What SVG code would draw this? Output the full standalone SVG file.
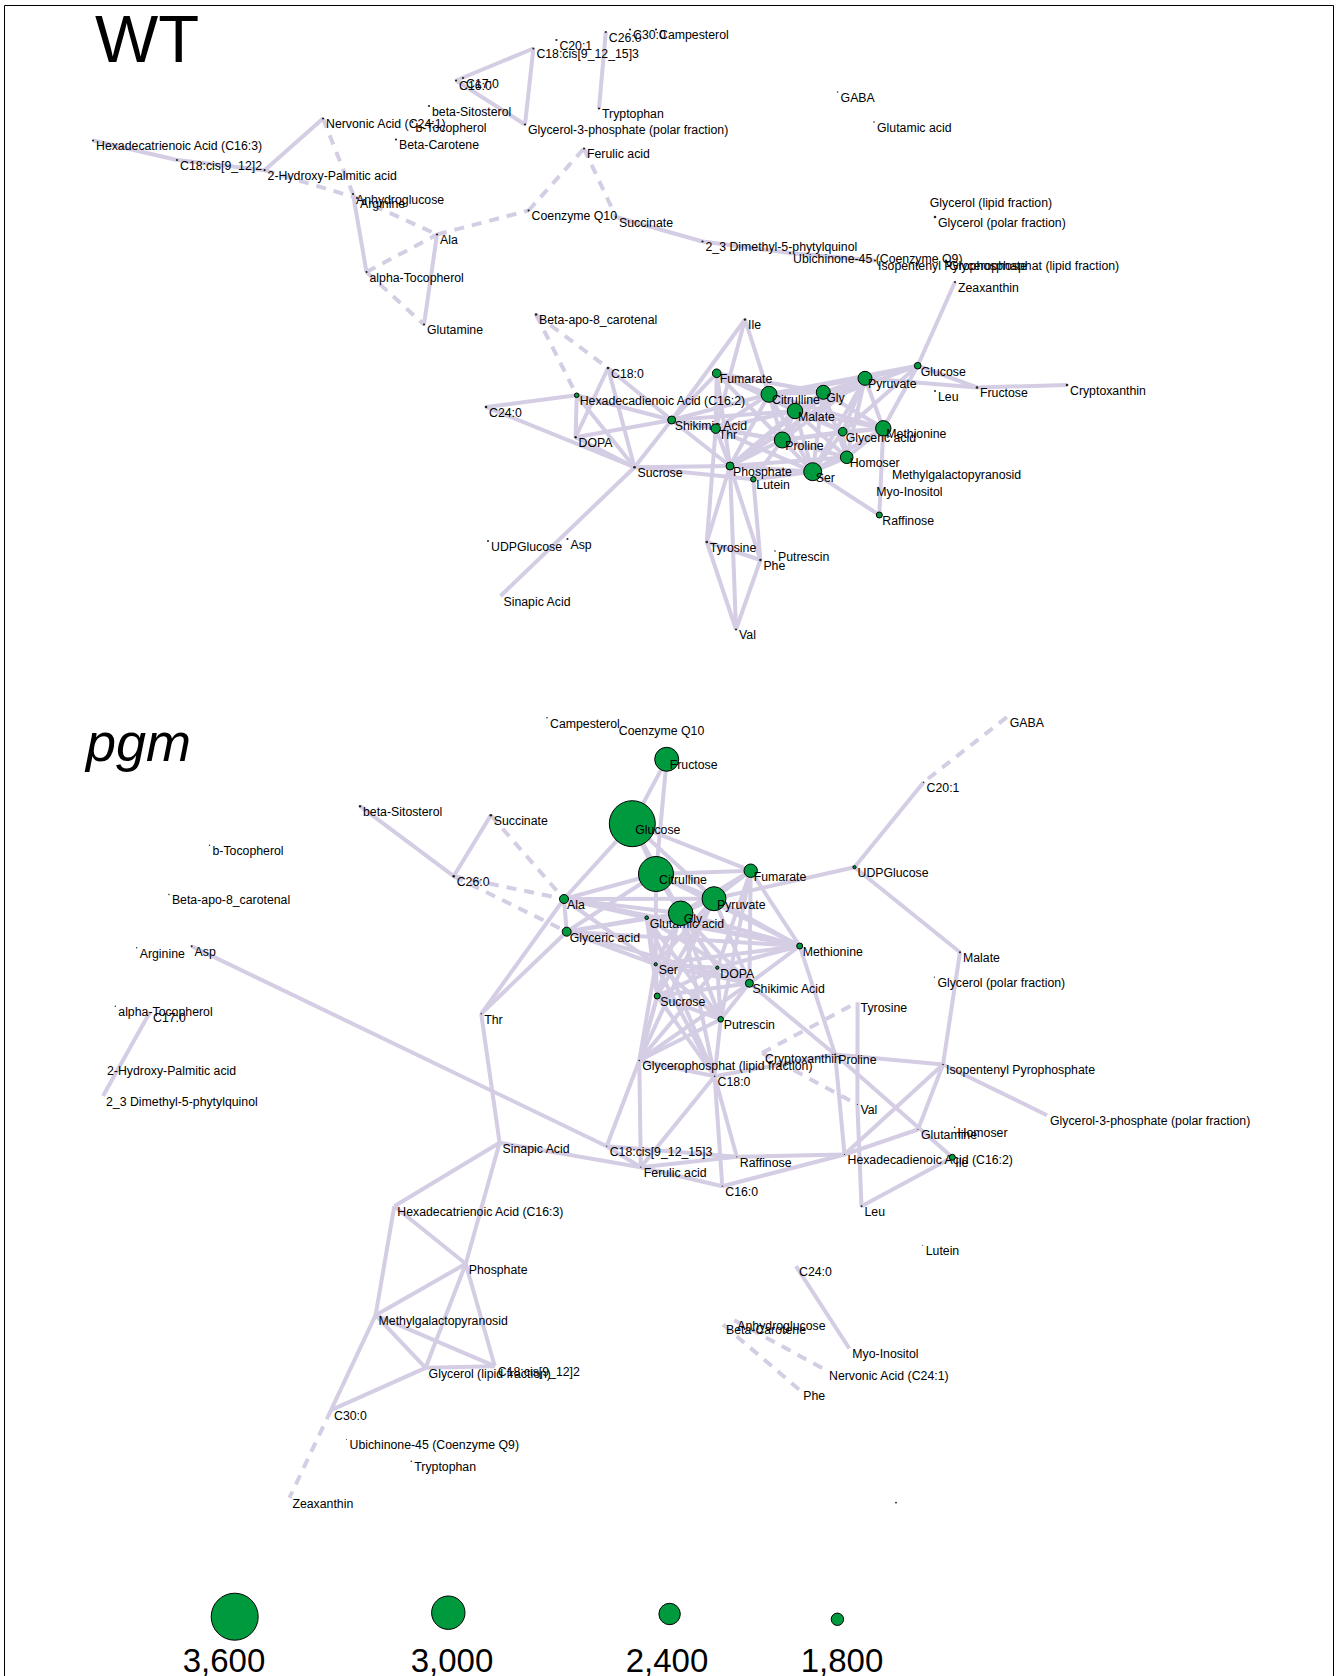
<svg xmlns="http://www.w3.org/2000/svg" width="1337" height="1676" viewBox="0 0 1337 1676">
<style>
.e line{stroke:#d4cde4;stroke-width:4;fill:none}
.e line.d{stroke-dasharray:10 8}
.g{fill:#009a3e;stroke:#000;stroke-width:1}
.k{fill:#222}
text{font-family:"Liberation Sans",Arial,Helvetica,sans-serif;font-size:12.3px;fill:#000}
.big{font-size:67px}
.pg{font-size:54px;font-style:italic}
.lg{font-size:33px;text-anchor:middle}
</style>
<rect x="0" y="0" width="1337" height="1676" fill="#fff"/>
<path d="M4.5,1676 V5.5 H1333.5 V1676" fill="none" stroke="#000" stroke-width="1"/>
<text class="big" x="95" y="62">WT</text>
<text class="pg" x="86" y="761">pgm</text>

<g id="connectors" class="e">
<!-- WT -->
<line x1="93" y1="140.5" x2="177" y2="160"/>
<line x1="177" y1="160" x2="264.6" y2="170.2"/>
<line x1="264.6" y1="170.2" x2="323" y2="118.5"/>
<line class="d" x1="323" y1="118.5" x2="353" y2="194"/>
<line class="d" x1="264.6" y1="170.2" x2="357" y2="198"/>
<line x1="353" y1="194" x2="366.5" y2="272"/>
<line class="d" x1="357" y1="198" x2="437" y2="234.5"/>
<line class="d" x1="366.5" y1="272" x2="437" y2="234.5"/>
<line class="d" x1="366.5" y1="272" x2="424" y2="324.5"/>
<line x1="437" y1="234.5" x2="424" y2="324.5"/>
<line class="d" x1="437" y1="234.5" x2="528.6" y2="210.5"/>
<line class="d" x1="528.6" y1="210.5" x2="584" y2="148.5"/>
<line class="d" x1="584" y1="148.5" x2="616" y2="217"/>
<line x1="616" y1="217" x2="702.5" y2="241.5"/>
<line x1="702.5" y1="241.5" x2="790" y2="253"/>
<line x1="790" y1="253" x2="875" y2="260.5"/>
<line x1="456" y1="80.5" x2="533.4" y2="48.5"/>
<line x1="533.4" y1="48.5" x2="525" y2="124.5"/>
<line x1="456" y1="80.5" x2="525" y2="124.5"/>
<line x1="605.8" y1="32" x2="599" y2="108.5"/>
<line x1="955" y1="282" x2="917.7" y2="365.7"/>
<line class="d" x1="536" y1="314.5" x2="576.7" y2="395.3"/>
<line class="d" x1="536" y1="314.5" x2="608" y2="368"/>
<line x1="486" y1="407" x2="576.7" y2="395.3"/>
<line x1="486" y1="407" x2="634.5" y2="467.2"/>
<line x1="576.7" y1="395.3" x2="575.6" y2="437.2"/>
<line x1="576.7" y1="395.3" x2="634.5" y2="467.2"/>
<line x1="576.7" y1="395.3" x2="671.7" y2="420"/>
<line x1="608" y1="368" x2="575.6" y2="437.2"/>
<line x1="608" y1="368" x2="634.5" y2="467.2"/>
<line x1="608" y1="368" x2="671.7" y2="420"/>
<line x1="575.6" y1="437.2" x2="634.5" y2="467.2"/>
<line x1="575.6" y1="437.2" x2="671.7" y2="420"/>
<line x1="634.5" y1="467.2" x2="500.5" y2="596"/>
<line x1="634.5" y1="467.2" x2="671.7" y2="420"/>
<line x1="634.5" y1="467.2" x2="730" y2="466"/>
<line x1="634.5" y1="467.2" x2="753.3" y2="479.3"/>
<line x1="671.7" y1="420" x2="716.7" y2="373.3"/>
<line x1="671.7" y1="420" x2="715.7" y2="428.7"/>
<line x1="671.7" y1="420" x2="769" y2="394.3"/>
<line x1="671.7" y1="420" x2="795" y2="411"/>
<line x1="671.7" y1="420" x2="730" y2="466"/>
<line x1="671.7" y1="420" x2="782.3" y2="440"/>
<line x1="745" y1="319.5" x2="671.7" y2="420"/>
<line x1="745" y1="319.5" x2="715.7" y2="428.7"/>
<line x1="745" y1="319.5" x2="769" y2="394.3"/>
<line x1="716.7" y1="373.3" x2="715.7" y2="428.7"/>
<line x1="716.7" y1="373.3" x2="730" y2="466"/>
<line x1="716.7" y1="373.3" x2="769" y2="394.3"/>
<line x1="716.7" y1="373.3" x2="823.3" y2="392.3"/>
<line x1="716.7" y1="373.3" x2="782.3" y2="440"/>
<line x1="716.7" y1="373.3" x2="795" y2="411"/>
<line x1="715.7" y1="428.7" x2="769" y2="394.3"/>
<line x1="715.7" y1="428.7" x2="795" y2="411"/>
<line x1="715.7" y1="428.7" x2="782.3" y2="440"/>
<line x1="715.7" y1="428.7" x2="730" y2="466"/>
<line x1="715.7" y1="428.7" x2="706.8" y2="542"/>
<line x1="715.7" y1="428.7" x2="812.7" y2="471.7"/>
<line x1="730" y1="466" x2="769" y2="394.3"/>
<line x1="730" y1="466" x2="823.3" y2="392.3"/>
<line x1="730" y1="466" x2="795" y2="411"/>
<line x1="730" y1="466" x2="782.3" y2="440"/>
<line x1="730" y1="466" x2="812.7" y2="471.7"/>
<line x1="730" y1="466" x2="846.7" y2="457.3"/>
<line x1="730" y1="466" x2="706.8" y2="542"/>
<line x1="730" y1="466" x2="736" y2="629.5"/>
<line x1="730" y1="466" x2="760.4" y2="560"/>
<line x1="730" y1="466" x2="865" y2="378.3"/>
<line x1="753.3" y1="479.3" x2="812.7" y2="471.7"/>
<line x1="753.3" y1="479.3" x2="760.4" y2="560"/>
<line x1="753.3" y1="479.3" x2="782.3" y2="440"/>
<line x1="769" y1="394.3" x2="823.3" y2="392.3"/>
<line x1="769" y1="394.3" x2="865" y2="378.3"/>
<line x1="769" y1="394.3" x2="917.7" y2="365.7"/>
<line x1="769" y1="394.3" x2="795" y2="411"/>
<line x1="769" y1="394.3" x2="782.3" y2="440"/>
<line x1="769" y1="394.3" x2="812.7" y2="471.7"/>
<line x1="769" y1="394.3" x2="842.7" y2="431.7"/>
<line x1="769" y1="394.3" x2="883.3" y2="428.3"/>
<line x1="823.3" y1="392.3" x2="865" y2="378.3"/>
<line x1="823.3" y1="392.3" x2="795" y2="411"/>
<line x1="823.3" y1="392.3" x2="782.3" y2="440"/>
<line x1="823.3" y1="392.3" x2="883.3" y2="428.3"/>
<line x1="823.3" y1="392.3" x2="812.7" y2="471.7"/>
<line x1="823.3" y1="392.3" x2="846.7" y2="457.3"/>
<line x1="865" y1="378.3" x2="917.7" y2="365.7"/>
<line x1="865" y1="378.3" x2="795" y2="411"/>
<line x1="865" y1="378.3" x2="782.3" y2="440"/>
<line x1="865" y1="378.3" x2="842.7" y2="431.7"/>
<line x1="865" y1="378.3" x2="883.3" y2="428.3"/>
<line x1="865" y1="378.3" x2="846.7" y2="457.3"/>
<line x1="865" y1="378.3" x2="812.7" y2="471.7"/>
<line x1="865" y1="378.3" x2="977" y2="387.5"/>
<line x1="917.7" y1="365.7" x2="977" y2="387.5"/>
<line x1="917.7" y1="365.7" x2="883.3" y2="428.3"/>
<line x1="917.7" y1="365.7" x2="795" y2="411"/>
<line x1="917.7" y1="365.7" x2="842.7" y2="431.7"/>
<line x1="977" y1="387.5" x2="1067" y2="385"/>
<line x1="795" y1="411" x2="782.3" y2="440"/>
<line x1="795" y1="411" x2="842.7" y2="431.7"/>
<line x1="795" y1="411" x2="883.3" y2="428.3"/>
<line x1="795" y1="411" x2="812.7" y2="471.7"/>
<line x1="795" y1="411" x2="846.7" y2="457.3"/>
<line x1="782.3" y1="440" x2="842.7" y2="431.7"/>
<line x1="782.3" y1="440" x2="883.3" y2="428.3"/>
<line x1="782.3" y1="440" x2="812.7" y2="471.7"/>
<line x1="782.3" y1="440" x2="846.7" y2="457.3"/>
<line x1="842.7" y1="431.7" x2="883.3" y2="428.3"/>
<line x1="842.7" y1="431.7" x2="812.7" y2="471.7"/>
<line x1="842.7" y1="431.7" x2="846.7" y2="457.3"/>
<line x1="883.3" y1="428.3" x2="846.7" y2="457.3"/>
<line x1="883.3" y1="428.3" x2="812.7" y2="471.7"/>
<line x1="883.3" y1="428.3" x2="879.3" y2="515"/>
<line x1="812.7" y1="471.7" x2="879.3" y2="515"/>
<line x1="812.7" y1="471.7" x2="846.7" y2="457.3"/>
<line x1="706.8" y1="542" x2="760.4" y2="560"/>
<line x1="706.8" y1="542" x2="736" y2="629.5"/>
<line x1="760.4" y1="560" x2="736" y2="629.5"/>
<!-- pgm -->
<line class="d" x1="1006.8" y1="717.2" x2="923.6" y2="782.2"/>
<line x1="923.6" y1="782.2" x2="854.5" y2="867.2"/>
<line x1="854.5" y1="867.2" x2="960" y2="952.2"/>
<line x1="854.5" y1="867.2" x2="714" y2="898.7"/>
<line x1="960" y1="952.2" x2="943" y2="1064.5"/>
<line x1="360" y1="806.2" x2="453.7" y2="876.2"/>
<line x1="490.8" y1="815.2" x2="453.7" y2="876.2"/>
<line class="d" x1="490.8" y1="815.2" x2="564" y2="899"/>
<line class="d" x1="453.7" y1="876.2" x2="564" y2="899"/>
<line class="d" x1="453.7" y1="876.2" x2="566.7" y2="931.7"/>
<line x1="191.6" y1="946.2" x2="606.7" y2="1146.2"/>
<line x1="150" y1="1012" x2="103" y2="1096"/>
<line x1="666.7" y1="759.3" x2="632.3" y2="823.7"/>
<line x1="666.7" y1="759.3" x2="656" y2="874"/>
<line x1="632.3" y1="823.7" x2="656" y2="874"/>
<line x1="632.3" y1="823.7" x2="564" y2="899"/>
<line x1="632.3" y1="823.7" x2="750.7" y2="870.7"/>
<line x1="632.3" y1="823.7" x2="714" y2="898.7"/>
<line x1="632.3" y1="823.7" x2="680.7" y2="913.3"/>
<line x1="656" y1="874" x2="750.7" y2="870.7"/>
<line x1="656" y1="874" x2="714" y2="898.7"/>
<line x1="656" y1="874" x2="680.7" y2="913.3"/>
<line x1="656" y1="874" x2="564" y2="899"/>
<line x1="656" y1="874" x2="566.7" y2="931.7"/>
<line x1="656" y1="874" x2="655.7" y2="964.3"/>
<line x1="656" y1="874" x2="717.3" y2="967.7"/>
<line x1="656" y1="874" x2="799.7" y2="946"/>
<line x1="750.7" y1="870.7" x2="714" y2="898.7"/>
<line x1="750.7" y1="870.7" x2="680.7" y2="913.3"/>
<line x1="750.7" y1="870.7" x2="799.7" y2="946"/>
<line x1="750.7" y1="870.7" x2="749.4" y2="983.3"/>
<line x1="750.7" y1="870.7" x2="717.3" y2="967.7"/>
<line x1="750.7" y1="870.7" x2="720.7" y2="1019.3"/>
<line x1="714" y1="898.7" x2="680.7" y2="913.3"/>
<line x1="714" y1="898.7" x2="564" y2="899"/>
<line x1="714" y1="898.7" x2="799.7" y2="946"/>
<line x1="714" y1="898.7" x2="655.7" y2="964.3"/>
<line x1="714" y1="898.7" x2="657.2" y2="996"/>
<line x1="714" y1="898.7" x2="639.3" y2="1060.5"/>
<line x1="714" y1="898.7" x2="749.4" y2="983.3"/>
<line x1="680.7" y1="913.3" x2="564" y2="899"/>
<line x1="680.7" y1="913.3" x2="566.7" y2="931.7"/>
<line x1="680.7" y1="913.3" x2="799.7" y2="946"/>
<line x1="680.7" y1="913.3" x2="655.7" y2="964.3"/>
<line x1="680.7" y1="913.3" x2="657.2" y2="996"/>
<line x1="680.7" y1="913.3" x2="717.3" y2="967.7"/>
<line x1="680.7" y1="913.3" x2="749.4" y2="983.3"/>
<line x1="680.7" y1="913.3" x2="720.7" y2="1019.3"/>
<line x1="680.7" y1="913.3" x2="639.3" y2="1060.5"/>
<line x1="680.7" y1="913.3" x2="714.6" y2="1076.2"/>
<line x1="646.7" y1="917.7" x2="564" y2="899"/>
<line x1="646.7" y1="917.7" x2="566.7" y2="931.7"/>
<line x1="646.7" y1="917.7" x2="799.7" y2="946"/>
<line x1="646.7" y1="917.7" x2="655.7" y2="964.3"/>
<line x1="646.7" y1="917.7" x2="657.2" y2="996"/>
<line x1="646.7" y1="917.7" x2="749.4" y2="983.3"/>
<line x1="646.7" y1="917.7" x2="720.7" y2="1019.3"/>
<line x1="646.7" y1="917.7" x2="714.6" y2="1076.2"/>
<line x1="564" y1="899" x2="566.7" y2="931.7"/>
<line x1="564" y1="899" x2="655.7" y2="964.3"/>
<line x1="564" y1="899" x2="799.7" y2="946"/>
<line x1="564" y1="899" x2="481.2" y2="1013.8"/>
<line x1="566.7" y1="931.7" x2="655.7" y2="964.3"/>
<line x1="566.7" y1="931.7" x2="481.2" y2="1013.8"/>
<line x1="566.7" y1="931.7" x2="799.7" y2="946"/>
<line x1="566.7" y1="931.7" x2="749.4" y2="983.3"/>
<line x1="799.7" y1="946" x2="655.7" y2="964.3"/>
<line x1="799.7" y1="946" x2="717.3" y2="967.7"/>
<line x1="799.7" y1="946" x2="749.4" y2="983.3"/>
<line x1="799.7" y1="946" x2="835.2" y2="1054.5"/>
<line x1="655.7" y1="964.3" x2="717.3" y2="967.7"/>
<line x1="655.7" y1="964.3" x2="657.2" y2="996"/>
<line x1="655.7" y1="964.3" x2="720.7" y2="1019.3"/>
<line x1="655.7" y1="964.3" x2="749.4" y2="983.3"/>
<line x1="655.7" y1="964.3" x2="639.3" y2="1060.5"/>
<line x1="655.7" y1="964.3" x2="714.6" y2="1076.2"/>
<line x1="717.3" y1="967.7" x2="749.4" y2="983.3"/>
<line x1="717.3" y1="967.7" x2="657.2" y2="996"/>
<line x1="717.3" y1="967.7" x2="720.7" y2="1019.3"/>
<line x1="717.3" y1="967.7" x2="639.3" y2="1060.5"/>
<line x1="749.4" y1="983.3" x2="657.2" y2="996"/>
<line x1="749.4" y1="983.3" x2="720.7" y2="1019.3"/>
<line x1="749.4" y1="983.3" x2="639.3" y2="1060.5"/>
<line x1="749.4" y1="983.3" x2="835.2" y2="1054.5"/>
<line x1="657.2" y1="996" x2="720.7" y2="1019.3"/>
<line x1="657.2" y1="996" x2="714.6" y2="1076.2"/>
<line x1="657.2" y1="996" x2="639.3" y2="1060.5"/>
<line x1="720.7" y1="1019.3" x2="714.6" y2="1076.2"/>
<line x1="720.7" y1="1019.3" x2="639.3" y2="1060.5"/>
<line x1="639.3" y1="1060.5" x2="714.6" y2="1076.2"/>
<line x1="639.3" y1="1060.5" x2="606.7" y2="1146.2"/>
<line x1="639.3" y1="1060.5" x2="640.8" y2="1167.2"/>
<line x1="714.6" y1="1076.2" x2="722.3" y2="1186.2"/>
<line x1="714.6" y1="1076.2" x2="736.8" y2="1156.8"/>
<line x1="714.6" y1="1076.2" x2="640.8" y2="1167.2"/>
<line x1="714.6" y1="1076.2" x2="835.2" y2="1054.5"/>
<line x1="606.7" y1="1146.2" x2="640.8" y2="1167.2"/>
<line x1="606.7" y1="1146.2" x2="736.8" y2="1156.8"/>
<line x1="499.6" y1="1142.8" x2="640.8" y2="1167.2"/>
<line x1="640.8" y1="1167.2" x2="736.8" y2="1156.8"/>
<line x1="640.8" y1="1167.2" x2="722.3" y2="1186.2"/>
<line x1="736.8" y1="1156.8" x2="844.5" y2="1154.5"/>
<line x1="722.3" y1="1186.2" x2="844.5" y2="1154.5"/>
<line x1="835.2" y1="1054.5" x2="943" y2="1064.5"/>
<line x1="835.2" y1="1054.5" x2="844.5" y2="1154.5"/>
<line x1="835.2" y1="1054.5" x2="952.3" y2="1157.3"/>
<line class="d" x1="762" y1="1053" x2="857.6" y2="1002.2"/>
<line class="d" x1="762" y1="1053" x2="857.4" y2="1104.5"/>
<line x1="857.6" y1="1002.2" x2="857.4" y2="1104.5"/>
<line x1="857.4" y1="1104.5" x2="861.5" y2="1206.2"/>
<line x1="861.5" y1="1206.2" x2="952.3" y2="1157.3"/>
<line x1="943" y1="1064.5" x2="918" y2="1129.5"/>
<line x1="943" y1="1064.5" x2="844.5" y2="1154.5"/>
<line x1="943" y1="1064.5" x2="1047" y2="1115.2"/>
<line x1="918" y1="1129.5" x2="844.5" y2="1154.5"/>
<line x1="481.2" y1="1013.8" x2="499.6" y2="1142.8"/>
<line x1="499.6" y1="1142.8" x2="394.3" y2="1206.2"/>
<line x1="499.6" y1="1142.8" x2="465.75" y2="1263.8"/>
<line x1="394.3" y1="1206.2" x2="465.75" y2="1263.8"/>
<line x1="394.3" y1="1206.2" x2="375.6" y2="1315.2"/>
<line x1="465.75" y1="1263.8" x2="375.6" y2="1315.2"/>
<line x1="465.75" y1="1263.8" x2="425.6" y2="1367.8"/>
<line x1="465.75" y1="1263.8" x2="494.8" y2="1366.2"/>
<line x1="375.6" y1="1315.2" x2="425.6" y2="1367.8"/>
<line x1="375.6" y1="1315.2" x2="494.8" y2="1366.2"/>
<line x1="375.6" y1="1315.2" x2="331" y2="1410.2"/>
<line x1="425.6" y1="1367.8" x2="331" y2="1410.2"/>
<line x1="425.6" y1="1367.8" x2="494.8" y2="1366.2"/>
<line class="d" x1="331" y1="1410.2" x2="289.4" y2="1497.8"/>
<line x1="796" y1="1266.2" x2="849.3" y2="1348.5"/>
<line class="d" x1="723" y1="1324.5" x2="800.3" y2="1390.5"/>
<line class="d" x1="734.3" y1="1320.2" x2="826" y2="1370.2"/>
</g>

<g id="wt-nodes">
<g id="wt-hex3" transform="translate(93,140.5)"><circle class="k" r="1.1"/><text x="3" y="9.8">Hexadecatrienoic Acid (C16:3)</text></g>
<g id="wt-c18cis2" transform="translate(177,160)"><circle class="k" r="1.1"/><text x="3" y="9.8">C18:cis[9_12]2</text></g>
<g id="wt-2hp" transform="translate(264.6,170.2)"><circle class="k" r="1.1"/><text x="3" y="9.8">2-Hydroxy-Palmitic acid</text></g>
<g id="wt-nerv" transform="translate(323,118.5)"><circle class="k" r="1.1"/><text x="3" y="9.8">Nervonic Acid (C24:1)</text></g>
<g id="wt-anh" transform="translate(353,194)"><circle class="k" r="1.1"/><text x="3" y="9.8">Anhydroglucose</text></g>
<g id="wt-arg" transform="translate(357,198)"><circle class="k" r="1.1"/><text x="3" y="9.8">Arginine</text></g>
<g id="wt-atoc" transform="translate(366.5,272)"><circle class="k" r="1.1"/><text x="3" y="9.8">alpha-Tocopherol</text></g>
<g id="wt-ala" transform="translate(437,234.5)"><circle class="k" r="1.1"/><text x="3" y="9.8">Ala</text></g>
<g id="wt-glutamine" transform="translate(424,324.5)"><circle class="k" r="1.1"/><text x="3" y="9.8">Glutamine</text></g>
<g id="wt-coq10" transform="translate(528.6,210.5)"><circle class="k" r="1.1"/><text x="3" y="9.8">Coenzyme Q10</text></g>
<g id="wt-ferulic" transform="translate(584,148.5)"><circle class="k" r="1.1"/><text x="3" y="9.8">Ferulic acid</text></g>
<g id="wt-succinate" transform="translate(616,217)"><circle class="k" r="1.1"/><text x="3" y="9.8">Succinate</text></g>
<g id="wt-23d" transform="translate(702.5,241.5)"><circle class="k" r="1.1"/><text x="3" y="9.8">2_3 Dimethyl-5-phytylquinol</text></g>
<g id="wt-ubi" transform="translate(790,253)"><circle class="k" r="1.1"/><text x="3" y="9.8">Ubichinone-45 (Coenzyme Q9)</text></g>
<g id="wt-isop" transform="translate(875,260.5)"><circle class="k" r="1.1"/><text x="3" y="9.8">Isopentenyl Pyrophosphate</text></g>
<g id="wt-glyp" transform="translate(946,260.5)"><circle class="k" r="1.1"/><text x="3" y="9.8">Glycerophosphat (lipid fraction)</text></g>
<g id="wt-zea" transform="translate(955,282)"><circle class="k" r="1.1"/><text x="3" y="9.8">Zeaxanthin</text></g>
<g id="wt-c16" transform="translate(456,80.5)"><circle class="k" r="1.1"/><text x="3" y="9.8">C16:0</text></g>
<g id="wt-c17" transform="translate(463,78)"><circle class="k" r="1.1"/><text x="3" y="9.8">C17:0</text></g>
<g id="wt-c18cis3" transform="translate(533.4,48.5)"><circle class="k" r="1.1"/><text x="3" y="9.8">C18:cis[9_12_15]3</text></g>
<g id="wt-c20" transform="translate(556.4,40)"><circle class="k" r="1.1"/><text x="3" y="9.8">C20:1</text></g>
<g id="wt-c26" transform="translate(605.8,32)"><circle class="k" r="1.1"/><text x="3" y="9.8">C26:0</text></g>
<g id="wt-c30" transform="translate(630,29.5)"><circle class="k" r="1.1"/><text x="3" y="9.8">C30:0</text></g>
<g id="wt-camp" transform="translate(656,29.5)"><circle class="k" r="1.1"/><text x="3" y="9.8">Campesterol</text></g>
<g id="wt-tryp" transform="translate(599,108.5)"><circle class="k" r="1.1"/><text x="3" y="9.8">Tryptophan</text></g>
<g id="wt-g3p" transform="translate(525,124.5)"><circle class="k" r="1.1"/><text x="3" y="9.8">Glycerol-3-phosphate (polar fraction)</text></g>
<g id="wt-bsit" transform="translate(429,106)"><circle class="k" r="1.1"/><text x="3" y="9.8">beta-Sitosterol</text></g>
<g id="wt-btoc" transform="translate(412.4,122)"><circle class="k" r="1.1"/><text x="3" y="9.8">b-Tocopherol</text></g>
<g id="wt-bcar" transform="translate(396,139.5)"><circle class="k" r="1.1"/><text x="3" y="9.8">Beta-Carotene</text></g>
<g id="wt-gaba" transform="translate(837.6,92)"><circle class="k" r="0.8"/><text x="3" y="9.8">GABA</text></g>
<g id="wt-glua" transform="translate(874,122)"><circle class="k" r="0.8"/><text x="3" y="9.8">Glutamic acid</text></g>
<g id="wt-glyl" transform="translate(926.8,197)"><text x="3" y="9.8">Glycerol (lipid fraction)</text></g>
<g id="wt-glypo" transform="translate(935,217)"><circle class="k" r="1.3"/><text x="3" y="9.8">Glycerol (polar fraction)</text></g>
<g id="wt-bapo" transform="translate(536,314.5)"><circle class="k" r="1.3"/><text x="3" y="9.8">Beta-apo-8_carotenal</text></g>
<g id="wt-ile" transform="translate(745,319.5)"><circle class="k" r="1.2"/><text x="3" y="9.8">Ile</text></g>
<g id="wt-c18" transform="translate(608,368)"><circle class="k" r="1.3"/><text x="3" y="9.8">C18:0</text></g>
<g id="wt-hd" transform="translate(576.7,395.3)"><circle class="g" r="2.3"/><text x="3" y="9.8">Hexadecadienoic Acid (C16:2)</text></g>
<g id="wt-c24" transform="translate(486,407)"><circle class="k" r="1.3"/><text x="3" y="9.8">C24:0</text></g>
<g id="wt-dopa" transform="translate(575.6,437.2)"><circle class="k" r="1.2"/><text x="3" y="9.8">DOPA</text></g>
<g id="wt-sucrose" transform="translate(634.5,467.2)"><circle class="k" r="1.3"/><text x="3" y="9.8">Sucrose</text></g>
<g id="wt-fum" transform="translate(716.7,373.3)"><circle class="g" r="4.3"/><text x="3" y="9.8">Fumarate</text></g>
<g id="wt-cit" transform="translate(769,394.3)"><circle class="g" r="8"/><text x="3" y="9.8">Citrulline</text></g>
<g id="wt-gly" transform="translate(823.3,392.3)"><circle class="g" r="7"/><text x="3" y="9.8">Gly</text></g>
<g id="wt-pyr" transform="translate(865,378.3)"><circle class="g" r="7"/><text x="3" y="9.8">Pyruvate</text></g>
<g id="wt-glc" transform="translate(917.7,365.7)"><circle class="g" r="3.3"/><text x="3" y="9.8">Glucose</text></g>
<g id="wt-leu" transform="translate(935,391)"><circle class="k" r="1"/><text x="3" y="9.8">Leu</text></g>
<g id="wt-fru" transform="translate(977,387.5)"><circle class="k" r="1.3"/><text x="3" y="9.8">Fructose</text></g>
<g id="wt-cry" transform="translate(1067,385)"><circle class="k" r="1.3"/><text x="3" y="9.8">Cryptoxanthin</text></g>
<g id="wt-shi" transform="translate(671.7,420)"><circle class="g" r="4"/><text x="3" y="9.8">Shikimic Acid</text></g>
<g id="wt-thr" transform="translate(715.7,428.7)"><circle class="g" r="4.7"/><text x="3" y="9.8">Thr</text></g>
<g id="wt-mal" transform="translate(795,411)"><circle class="g" r="7.7"/><text x="3" y="9.8">Malate</text></g>
<g id="wt-pro" transform="translate(782.3,440)"><circle class="g" r="8"/><text x="3" y="9.8">Proline</text></g>
<g id="wt-ga" transform="translate(842.7,431.7)"><circle class="g" r="4.3"/><text x="3" y="9.8">Glyceric acid</text></g>
<g id="wt-met" transform="translate(883.3,428.3)"><circle class="g" r="7.7"/><text x="3" y="9.8">Methionine</text></g>
<g id="wt-pho" transform="translate(730,466)"><circle class="g" r="4"/><text x="3" y="9.8">Phosphate</text></g>
<g id="wt-lut" transform="translate(753.3,479.3)"><circle class="g" r="2.7"/><text x="3" y="9.8">Lutein</text></g>
<g id="wt-hom" transform="translate(846.7,457.3)"><circle class="g" r="6.3"/><text x="3" y="9.8">Homoser</text></g>
<g id="wt-ser" transform="translate(812.7,471.7)"><circle class="g" r="9"/><text x="3" y="9.8">Ser</text></g>
<g id="wt-mgp" transform="translate(889,469)"><text x="3" y="9.8">Methylgalactopyranosid</text></g>
<g id="wt-myo" transform="translate(873.3,486)"><text x="3" y="9.8">Myo-Inositol</text></g>
<g id="wt-raf" transform="translate(879.3,515)"><circle class="g" r="3"/><text x="3" y="9.8">Raffinose</text></g>
<g id="wt-udp" transform="translate(488,541)"><circle class="k" r="1"/><text x="3" y="9.8">UDPGlucose</text></g>
<g id="wt-asp" transform="translate(567.5,539)"><circle class="k" r="1"/><text x="3" y="9.8">Asp</text></g>
<g id="wt-sin" transform="translate(500.5,596)"><text x="3" y="9.8">Sinapic Acid</text></g>
<g id="wt-tyr" transform="translate(706.8,542)"><circle class="k" r="1.3"/><text x="3" y="9.8">Tyrosine</text></g>
<g id="wt-phe" transform="translate(760.4,560)"><circle class="k" r="1.3"/><text x="3" y="9.8">Phe</text></g>
<g id="wt-put" transform="translate(775,551)"><circle class="k" r="0.8"/><text x="3" y="9.8">Putrescin</text></g>
<g id="wt-val" transform="translate(736,629.5)"><circle class="k" r="1"/><text x="3" y="9.8">Val</text></g>
</g>

<g id="pgm-nodes">
<g id="pgm-camp" transform="translate(547,717.8)"><circle class="k" r="0.8"/><text x="3" y="9.8">Campesterol</text></g>
<g id="pgm-coq10" transform="translate(615.8,725.2)"><text x="3" y="9.8">Coenzyme Q10</text></g>
<g id="pgm-fru" transform="translate(666.7,759.3)"><circle class="g" r="12"/><text x="3" y="9.8">Fructose</text></g>
<g id="pgm-gaba" transform="translate(1006.8,717.2)"><text x="3" y="9.8">GABA</text></g>
<g id="pgm-c20" transform="translate(923.6,782.2)"><circle class="k" r="0.8"/><text x="3" y="9.8">C20:1</text></g>
<g id="pgm-glc" transform="translate(632.3,823.7)"><circle class="g" r="23"/><text x="3" y="9.8">Glucose</text></g>
<g id="pgm-bsit" transform="translate(360,806.2)"><circle class="k" r="1.2"/><text x="3" y="9.8">beta-Sitosterol</text></g>
<g id="pgm-succ" transform="translate(490.8,815.2)"><circle class="k" r="1.3"/><text x="3" y="9.8">Succinate</text></g>
<g id="pgm-btoc" transform="translate(209.5,845.2)"><circle class="k" r="0.7"/><text x="3" y="9.8">b-Tocopherol</text></g>
<g id="pgm-c26" transform="translate(453.7,876.2)"><circle class="k" r="1.3"/><text x="3" y="9.8">C26:0</text></g>
<g id="pgm-cit" transform="translate(656,874)"><circle class="g" r="17.5"/><text x="3" y="9.8">Citrulline</text></g>
<g id="pgm-fum" transform="translate(750.7,870.7)"><circle class="g" r="6.7"/><text x="3" y="9.8">Fumarate</text></g>
<g id="pgm-udp" transform="translate(854.5,867.2)"><circle class="g" r="1.6"/><text x="3" y="9.8">UDPGlucose</text></g>
<g id="pgm-bapo" transform="translate(168.9,894.5)"><circle class="k" r="0.7"/><text x="3" y="9.8">Beta-apo-8_carotenal</text></g>
<g id="pgm-ala" transform="translate(564,899)"><circle class="g" r="4.5"/><text x="3" y="9.8">Ala</text></g>
<g id="pgm-pyr" transform="translate(714,898.7)"><circle class="g" r="12"/><text x="3" y="9.8">Pyruvate</text></g>
<g id="pgm-glu" transform="translate(646.7,917.7)"><circle class="g" r="1.8"/><text x="3" y="9.8">Glutamic acid</text></g>
<g id="pgm-gly" transform="translate(680.7,913.3)"><circle class="g" r="12.3"/><text x="3" y="9.8">Gly</text></g>
<g id="pgm-ga" transform="translate(566.7,931.7)"><circle class="g" r="4.5"/><text x="3" y="9.8">Glyceric acid</text></g>
<g id="pgm-met" transform="translate(799.7,946)"><circle class="g" r="3"/><text x="3" y="9.8">Methionine</text></g>
<g id="pgm-arg" transform="translate(136.7,947.8)"><circle class="k" r="0.7"/><text x="3" y="9.8">Arginine</text></g>
<g id="pgm-asp" transform="translate(191.6,946.2)"><circle class="k" r="1"/><text x="3" y="9.8">Asp</text></g>
<g id="pgm-mal" transform="translate(960,952.2)"><circle class="k" r="1"/><text x="3" y="9.8">Malate</text></g>
<g id="pgm-ser" transform="translate(655.7,964.3)"><circle class="g" r="1.6"/><text x="3" y="9.8">Ser</text></g>
<g id="pgm-dopa" transform="translate(717.3,967.7)"><circle class="g" r="1.6"/><text x="3" y="9.8">DOPA</text></g>
<g id="pgm-glypo" transform="translate(934.4,977.2)"><circle class="k" r="0.6"/><text x="3" y="9.8">Glycerol (polar fraction)</text></g>
<g id="pgm-shi" transform="translate(749.4,983.3)"><circle class="g" r="4"/><text x="3" y="9.8">Shikimic Acid</text></g>
<g id="pgm-suc" transform="translate(657.2,996)"><circle class="g" r="3"/><text x="3" y="9.8">Sucrose</text></g>
<g id="pgm-tyr" transform="translate(857.6,1002.2)"><text x="3" y="9.8">Tyrosine</text></g>
<g id="pgm-atoc" transform="translate(115.3,1006.2)"><circle class="k" r="0.7"/><text x="3" y="9.8">alpha-Tocopherol</text></g>
<g id="pgm-c17" transform="translate(150,1012)"><text x="3" y="9.8">C17:0</text></g>
<g id="pgm-thr" transform="translate(481.2,1013.8)"><circle class="k" r="0.7"/><text x="3" y="9.8">Thr</text></g>
<g id="pgm-put" transform="translate(720.7,1019.3)"><circle class="g" r="2.8"/><text x="3" y="9.8">Putrescin</text></g>
<g id="pgm-cry" transform="translate(762,1053)"><text x="3" y="9.8">Cryptoxanthin</text></g>
<g id="pgm-pro" transform="translate(835.2,1054.5)"><circle class="k" r="1"/><text x="3" y="9.8">Proline</text></g>
<g id="pgm-glyp" transform="translate(639.3,1060.5)"><circle class="k" r="0.8"/><text x="3" y="9.8">Glycerophosphat (lipid fraction)</text></g>
<g id="pgm-isop" transform="translate(943,1064.5)"><circle class="k" r="0.8"/><text x="3" y="9.8">Isopentenyl Pyrophosphate</text></g>
<g id="pgm-2hp" transform="translate(104,1065)"><text x="3" y="9.8">2-Hydroxy-Palmitic acid</text></g>
<g id="pgm-c18" transform="translate(714.6,1076.2)"><circle class="k" r="0.8"/><text x="3" y="9.8">C18:0</text></g>
<g id="pgm-23d" transform="translate(103,1096)"><text x="3" y="9.8">2_3 Dimethyl-5-phytylquinol</text></g>
<g id="pgm-val" transform="translate(857.4,1104.5)"><circle class="k" r="0.6"/><text x="3" y="9.8">Val</text></g>
<g id="pgm-g3p" transform="translate(1047,1115.2)"><text x="3" y="9.8">Glycerol-3-phosphate (polar fraction)</text></g>
<g id="pgm-hom" transform="translate(954.6,1127.2)"><circle class="k" r="0.8"/><text x="3" y="9.8">Homoser</text></g>
<g id="pgm-glut" transform="translate(918,1129.5)"><circle class="k" r="0.6"/><text x="3" y="9.8">Glutamine</text></g>
<g id="pgm-sin" transform="translate(499.6,1142.8)"><text x="3" y="9.8">Sinapic Acid</text></g>
<g id="pgm-c18cis3" transform="translate(606.7,1146.2)"><circle class="k" r="0.6"/><text x="3" y="9.8">C18:cis[9_12_15]3</text></g>
<g id="pgm-hd" transform="translate(844.5,1154.5)"><circle class="k" r="0.6"/><text x="3" y="9.8">Hexadecadienoic Acid (C16:2)</text></g>
<g id="pgm-ile" transform="translate(952.3,1157.3)"><circle class="g" r="3"/><text x="3" y="9.8">Ile</text></g>
<g id="pgm-raf" transform="translate(736.8,1156.8)"><circle class="k" r="0.6"/><text x="3" y="9.8">Raffinose</text></g>
<g id="pgm-fer" transform="translate(640.8,1167.2)"><circle class="k" r="0.6"/><text x="3" y="9.8">Ferulic acid</text></g>
<g id="pgm-c16" transform="translate(722.3,1186.2)"><circle class="k" r="0.6"/><text x="3" y="9.8">C16:0</text></g>
<g id="pgm-leu" transform="translate(861.5,1206.2)"><circle class="k" r="1"/><text x="3" y="9.8">Leu</text></g>
<g id="pgm-hex3" transform="translate(394.3,1206.2)"><text x="3" y="9.8">Hexadecatrienoic Acid (C16:3)</text></g>
<g id="pgm-lut" transform="translate(922.7,1245.2)"><circle class="k" r="0.5"/><text x="3" y="9.8">Lutein</text></g>
<g id="pgm-pho" transform="translate(465.75,1263.8)"><text x="3" y="9.8">Phosphate</text></g>
<g id="pgm-c24" transform="translate(796,1266.2)"><text x="3" y="9.8">C24:0</text></g>
<g id="pgm-mgp" transform="translate(375.6,1315.2)"><text x="3" y="9.8">Methylgalactopyranosid</text></g>
<g id="pgm-anh" transform="translate(734.3,1320.2)"><text x="3" y="9.8">Anhydroglucose</text></g>
<g id="pgm-bcar" transform="translate(723,1324.5)"><text x="3" y="9.8">Beta-Carotene</text></g>
<g id="pgm-glyl" transform="translate(425.6,1367.8)"><text x="3" y="9.8">Glycerol (lipid fraction)</text></g>
<g id="pgm-c18cis2" transform="translate(494.8,1366.2)"><text x="3" y="9.8">C18:cis[9_12]2</text></g>
<g id="pgm-nerv" transform="translate(826,1370.2)"><text x="3" y="9.8">Nervonic Acid (C24:1)</text></g>
<g id="pgm-myo" transform="translate(849.3,1348.5)"><text x="3" y="9.8">Myo-Inositol</text></g>
<g id="pgm-phe" transform="translate(800.3,1390.5)"><text x="3" y="9.8">Phe</text></g>
<g id="pgm-c30" transform="translate(331,1410.2)"><text x="3" y="9.8">C30:0</text></g>
<g id="pgm-ubi" transform="translate(346.5,1439.5)"><circle class="k" r="0.5"/><text x="3" y="9.8">Ubichinone-45 (Coenzyme Q9)</text></g>
<g id="pgm-tryp" transform="translate(411.3,1461.2)"><circle class="k" r="0.8"/><text x="3" y="9.8">Tryptophan</text></g>
<g id="pgm-zea" transform="translate(289.4,1497.8)"><text x="3" y="9.8">Zeaxanthin</text></g>
<g id="pgm-dot" transform="translate(896,1502.7)"><circle class="k" r="0.9"/></g>
</g>

<g id="legend">
<circle class="g" cx="234.7" cy="1616.7" r="23.5"/>
<circle class="g" cx="448.3" cy="1612.7" r="16.7"/>
<circle class="g" cx="669.6" cy="1614" r="10.7"/>
<circle class="g" cx="837.4" cy="1619.3" r="6.2"/>
<text class="lg" x="224" y="1672">3,600</text>
<text class="lg" x="452" y="1672">3,000</text>
<text class="lg" x="667" y="1672">2,400</text>
<text class="lg" x="842" y="1672">1,800</text>
</g>
</svg>
